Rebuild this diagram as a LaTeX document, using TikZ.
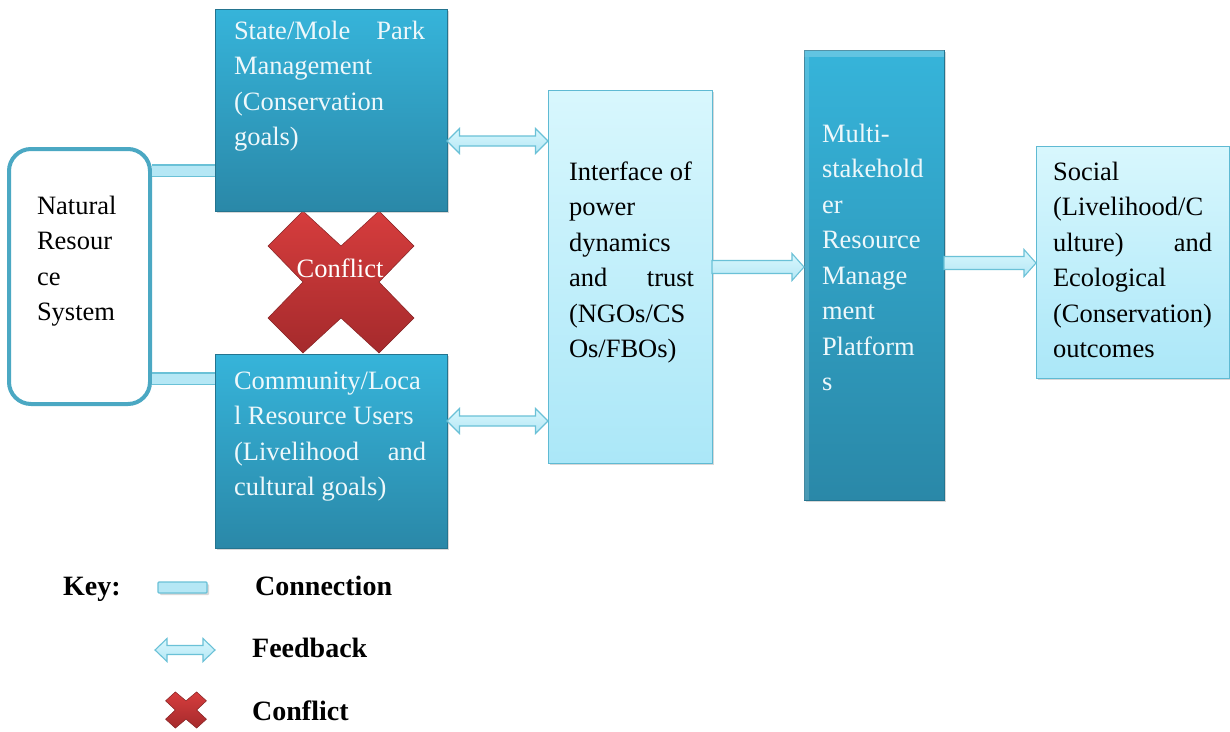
\documentclass[tikz,border=0pt]{standalone}
\usepackage{fontspec}
\setmainfont{Liberation Serif}
\usetikzlibrary{calc,shadows}
\definecolor{teal1}{HTML}{36B4DA}
\definecolor{teal2}{HTML}{2A88A8}
\definecolor{lite1}{HTML}{D8F7FD}
\definecolor{lite2}{HTML}{ABE7F8}
\definecolor{liteb}{HTML}{5FBAD3}
\definecolor{nrsb}{HTML}{4BA8C3}
\definecolor{barf}{HTML}{B5E7F5}
\definecolor{barb}{HTML}{6AC1D7}
\definecolor{red1}{HTML}{D63D3D}
\definecolor{red2}{HTML}{A52A2C}
\definecolor{wtext}{HTML}{EEF8FB}
\newcommand\mfont{\fontsize{26.5}{35.5}\selectfont}
\newcommand\txtlines[1]{\vtop{\hsize=300pt\parindent=0pt\mfont\baselineskip=35.5pt\raggedright\leavevmode #1}}
\newcommand\jline[2]{\leavevmode\hbox to #1{#2}}
\newcommand\dblarrow[5]{% from, to, head length, head half, shaft half
  \path[fatarrow] (#1) -- ($(#1)+(#3,#4)$) -- ($(#1)+(#3,#5)$) -- ($(#2)+(-#3,#5)$) -- ($(#2)+(-#3,#4)$) -- (#2)
    -- ($(#2)+(-#3,-#4)$) -- ($(#2)+(-#3,-#5)$) -- ($(#1)+(#3,-#5)$) -- ($(#1)+(#3,-#4)$) -- cycle;}
\newcommand\onearrow[5]{%
  \path[fatarrow] ($(#1)+(0,#5)$) -- ($(#2)+(-#3,#5)$) -- ($(#2)+(-#3,#4)$) -- (#2)
    -- ($(#2)+(-#3,-#4)$) -- ($(#2)+(-#3,-#5)$) -- ($(#1)+(0,-#5)$) -- cycle;}
\begin{document}
\begin{tikzpicture}[x=1pt,y=-1pt,
  shad/.style={drop shadow={shadow xshift=2pt,shadow yshift=-2pt,opacity=0.3}},
  darkbox/.style={rectangle, draw=teal2!85!black, line width=0.6pt, top color=teal1, bottom color=teal2, shad, inner sep=0, outer sep=0},
  litebox/.style={rectangle, draw=liteb, line width=1pt, top color=lite1, bottom color=lite2, shad, inner sep=0, outer sep=0},
  nrsbox/.style={rectangle, rounded corners=22pt, draw=nrsb, line width=4pt, fill=white, inner sep=0},
  txt/.style={inner sep=0, outer sep=0, anchor=base west},
  connbar/.style={draw=barb, line width=1.3pt, double=barf, double distance=10pt},
  fatarrow/.style={draw=barb, line width=1.1pt, top color=lite1, bottom color=barf},
  keytxt/.style={inner sep=0, anchor=base west, font=\fontsize{28}{30}\selectfont\bfseries},
  pics/xcross/.style={code={
    \path[draw=red2!80!black, line width=0.5pt, top color=red1, bottom color=red2]
      (0,-36) -- (38,-71) -- (73,-36) -- (38,0) -- (73,36) -- (38,71) -- (0,36)
      -- (-38,71) -- (-73,36) -- (-38,0) -- (-73,-36) -- (-38,-71) -- cycle;}}
]
\useasboundingbox[fill=white] (0,0) rectangle (1230,731);

% conflict cross (behind boxes)
\pic (cross) at (341,282) {xcross};

% boxes
\node[nrsbox, minimum width=141, minimum height=255] (nrs) at (79.5,276.5) {};
\node[darkbox, minimum width=232, minimum height=202, anchor=north west] (state) at (215,9) {};
\node[darkbox, minimum width=232, minimum height=194, anchor=north west] (comm) at (215,354) {};
\node[litebox, minimum width=164, minimum height=373, anchor=north west] (iface) at (548,90) {};
\node[darkbox, minimum width=140, minimum height=450, anchor=north west] (multi) at (804,50) {};
\fill[white, opacity=0.22] (multi.north west) rectangle ($(multi.north east)+(0,7)$);
\fill[white, opacity=0.15] ($(multi.north west)+(0,7)$) rectangle ($(multi.south west)+(5,0)$);
\node[litebox, minimum width=193, minimum height=232, anchor=north west] (social) at (1036,146) {};

% texts
\node[txt] (t-nrs) at (37,214) {\txtlines{Natural\\ Resour\\ ce\\ System}};
\node[txt, text=wtext] (t-state) at (234,39) {\txtlines{\jline{191pt}{State/Mole\hfill Park}\\ Management\\ (Conservation\\ goals)}};
\node[txt, text=wtext] (t-comm) at (234,389) {\txtlines{Community/Loca\\ l Resource Users\\ \jline{192pt}{(Livelihood\hfill and}\\ cultural goals)}};
\node[txt] (t-iface) at (569,180) {\txtlines{Interface of\\ power\\ dynamics\\ \jline{125pt}{and\hfill trust}\\ (NGOs/CS\\ Os/FBOs)}};
\node[txt, text=wtext] (t-multi) at (822,142) {\txtlines{Multi-\\ stakehold\\ er\\ Resource\\ Manage\\ ment\\ Platform\\ s}};
\node[txt] (t-social) at (1053,180) {\txtlines{Social\\ (Livelihood/C\\ \jline{159pt}{ulture)\hfill and}\\ Ecological\\ (Conservation)\\ outcomes}};
\node[text=white, font=\mfont, inner sep=0] (conflbl) at (340,268) {Conflict};

% connections
\draw[connbar] (nrs.east |- 0,170.5) -- (state.west |- 0,170.5);
\draw[connbar] (nrs.east |- 0,378.5) -- (comm.west |- 0,378.5);

% feedback arrows
\coordinate (fb1a) at (state.east |- 0,141);
\coordinate (fb1b) at (iface.west |- 0,141);
\coordinate (fb2a) at (comm.east |- 0,421);
\coordinate (fb2b) at (iface.west |- 0,421);
\dblarrow{fb1a}{fb1b}{12.5}{12.5}{5}
\dblarrow{fb2a}{fb2b}{12.5}{12.5}{5}

% forward arrows
\coordinate (ar1a) at (iface.east |- 0,267);
\coordinate (ar1b) at (multi.west |- 0,267);
\coordinate (ar2a) at (multi.east |- 0,263);
\coordinate (ar2b) at (social.west |- 0,263);
\onearrow{ar1a}{ar1b}{12}{13.5}{6.5}
\onearrow{ar2a}{ar2b}{12}{13.5}{6.5}

% key
\node[keytxt] (k-key) at (63,595) {Key:};
\node[rectangle, draw=barb, line width=1.3pt, fill=barf, rounded corners=1pt, shad, minimum width=49, minimum height=11, inner sep=0] (k-bar) at (182.5,587.5) {};
\node[keytxt] (k-conn) at (255,595) {Connection};
\coordinate (kfa) at (155,650);
\coordinate (kfb) at (215,650);
\dblarrow{kfa}{kfb}{12}{11.5}{4.5}
\node[keytxt] (k-fb) at (252,657) {Feedback};
\pic[xscale=0.28, yscale=0.255] (kcross) at (186,710) {xcross};
\node[keytxt] (k-cf) at (252,720) {Conflict};
\end{tikzpicture}
\end{document}
